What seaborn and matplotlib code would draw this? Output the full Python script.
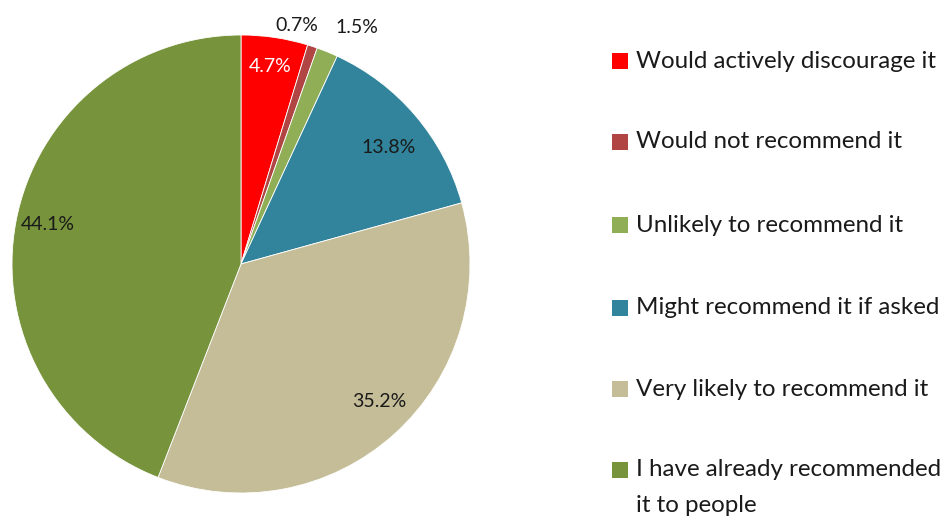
import numpy as np
import matplotlib
matplotlib.use("Agg")
import matplotlib.pyplot as plt
from matplotlib.patches import Rectangle
import seaborn as sns

categories = [
    "Would actively discourage it",
    "Would not recommend it",
    "Unlikely to recommend it",
    "Might recommend it if asked",
    "Very likely to recommend it",
    "I have already recommended\nit to people",
]
shares = [4.7, 0.7, 1.5, 13.8, 35.2, 44.1]
pct_labels = ["4.7%", "0.7%", "1.5%", "13.8%", "35.2%", "44.1%"]
colors = ["#FF0000", "#B04543", "#8FAE55", "#31849B", "#C4BD97", "#77933C"]

sns.set_theme(style="white")
plt.rcParams["font.family"] = ["Lato", "DejaVu Sans"]

fig = plt.figure(figsize=(9.52, 5.2), dpi=100)
ax = fig.add_axes([12 / 952, 27 / 520, 458 / 952, 458 / 520])

wedges, _ = ax.pie(shares, colors=colors, startangle=90, counterclock=False,
                   wedgeprops=dict(linewidth=0.6, edgecolor="white"))
ax.set_aspect("equal")
ax.set_xlim(-1, 1)
ax.set_ylim(-1, 1)

# label radius (fraction of pie radius) and angle nudge per slice
label_r = [0.87, 1.07, 1.15, 0.82, 0.85, 0.86]
label_da = [0, 5, -4, -2, 3, -1]
text_colors = ["white", "#1a1a1a", "#1a1a1a", "#1a1a1a", "#1a1a1a", "#1a1a1a"]
for w, lab, r, da, tc in zip(wedges, pct_labels, label_r, label_da, text_colors):
    mid = np.deg2rad((w.theta1 + w.theta2) / 2 + da)
    ax.text(r * np.cos(mid), r * np.sin(mid), lab, ha="center", va="center",
            fontsize=14, color=tc, clip_on=False)

# legend drawn as swatches and text on the figure
row_y = [61, 142, 225, 308, 389, 470]
line_gap = 35
for cat, col, y in zip(categories, colors, row_y):
    fy = 1 - y / 520
    fig.patches.append(Rectangle((612 / 952, fy - 8 / 520), 16 / 952, 16 / 520,
                                 transform=fig.transFigure, facecolor=col,
                                 edgecolor="none"))
    for i, line in enumerate(cat.split("\n")):
        fig.text(636 / 952, 1 - (y + i * line_gap) / 520, line, ha="left",
                 va="center", fontsize=17.4, color="#1a1a1a")

fig.savefig("out.png", dpi=100)
